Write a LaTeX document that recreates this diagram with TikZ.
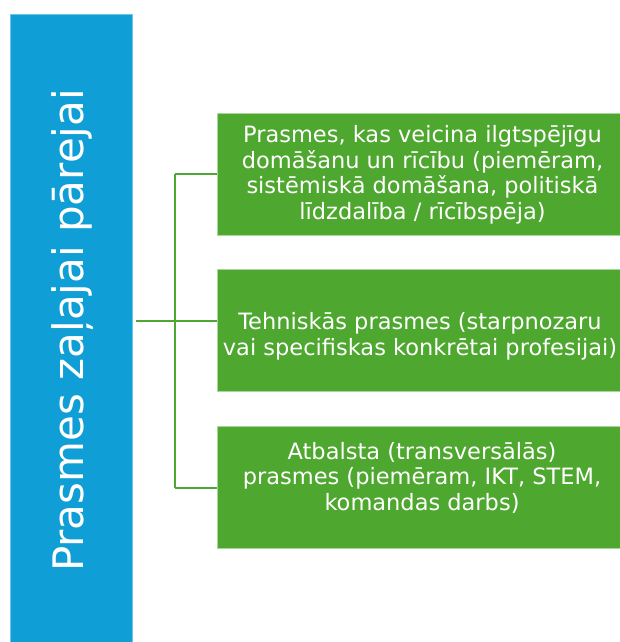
\documentclass[tikz,border=0pt]{standalone}
\usepackage{fontspec}
\setmainfont{DejaVu Sans}
\definecolor{bl}{HTML}{0F9ED5}
\definecolor{gr}{HTML}{4EA72E}
\definecolor{edgegr}{HTML}{A9D69A}
\begin{document}
\begin{tikzpicture}[x=1pt,y=-1pt,
  barbox/.style={fill=bl,draw=bl!60!white,line width=0.6pt,minimum width=122pt,minimum height=628pt,inner sep=0pt},
  bartext/.style={text=white,rotate=90,font=\fontsize{42}{46}\selectfont,inner sep=0pt},
  skillbox/.style={fill=gr,draw=edgegr,line width=0.6pt,minimum width=403pt,minimum height=122pt,inner sep=0pt},
  skilltext/.style={text=white,align=center,inner sep=0pt,font=\fontsize{22.5}{25.5}\selectfont},
  link/.style={draw=gr,line width=2pt}]
\useasboundingbox (0,0) rectangle (620,642);
\node[barbox] (bar) at (71,328) {};
\node[bartext] (title) at (72,330.5) {Prasmes zaļajai pārejai};
\node[skillbox] (b1) at (418.5,174) {};
\node[skillbox] (b2) at (418.5,330.5) {};
\node[skillbox] (b3) at (418.5,487.5) {};
\node[skilltext] (t1) at (422.5,175) {Prasmes, kas veicina ilgtspējīgu\\domāšanu un rīcību (piemēram,\\sistēmiskā domāšana, politiskā\\līdzdalība / rīcībspēja)};
\node[skilltext] (t2) at (420,336.5) {Tehniskās prasmes (starpnozaru\\vai specifiskas konkrētai profesijai)};
\node[skilltext] (t3) at (422,477.5) {Atbalsta (transversālās)\\prasmes (piemēram, IKT, STEM,\\komandas darbs)};
\coordinate (s) at (136,321);
\coordinate (j) at (175,321);
\draw[link] (s) -- (b2.west |- s);
\draw[link] (j |- b1.west) -- (j |- b3.west);
\draw[link] (j |- b1.west) -- (b1.west);
\draw[link] (j |- b3.west) -- (b3.west);
\end{tikzpicture}
\end{document}
